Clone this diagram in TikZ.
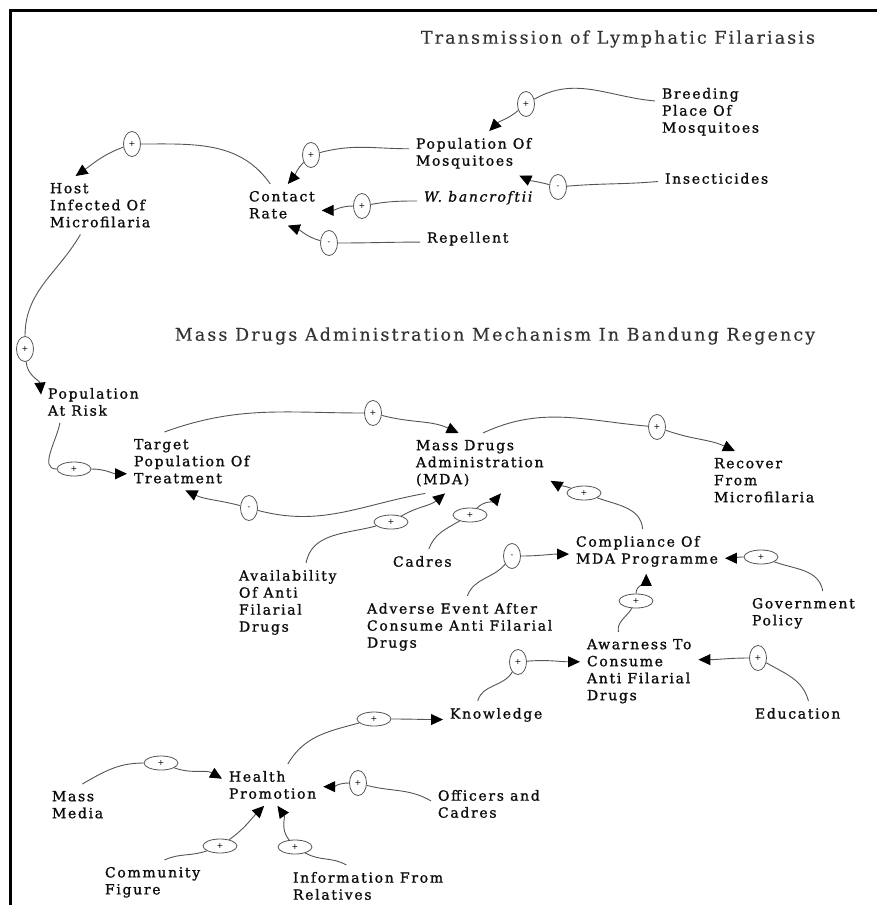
\documentclass[tikz,border=0pt]{standalone}
\usepackage{fontspec}
\setmainfont{DejaVu Serif}[LetterSpace=12]
\newfontfamily\varfont{DejaVu Serif}[LetterSpace=12, FakeBold=1.2]
\newfontfamily\ttlfont{DejaVu Serif}[LetterSpace=12, FakeBold=0.4]
\usetikzlibrary{arrows.meta,shapes.geometric}
\definecolor{linec}{gray}{0.33}
\definecolor{txt}{gray}{0.05}
\definecolor{ttl}{gray}{0.2}

\begin{document}
\begin{tikzpicture}[x = 1pt, y = 1pt,
  var/.style = {font = \varfont\fontsize{14}{17}\selectfont, align = left, anchor = north west, yshift = 3pt, inner sep = 2pt, outer sep = 5pt, text = txt},
  title/.style = {font = \ttlfont\fontsize{17.5}{20}\selectfont, text = ttl},
  sign/.style = {ellipse, draw = linec, line width = 0.8pt, inner sep = 0pt, font = \fontsize{8}{8}\selectfont},
  signv/.style = {sign, minimum width = 17pt, minimum height = 25pt},
  signh/.style = {sign, minimum width = 34pt, minimum height = 14pt},
  link/.style = {draw = linec, line width = 0.9pt},
  >={Triangle[length = 12pt, width = 11pt, color = black]}]
\useasboundingbox (0,0) rectangle (877,-905);
\draw[line width = 3pt] (10,-905) -- (10,-10) -- (877,-10);

% titles
\node[title] (t1) at (618,-39) {Transmission of Lymphatic Filariasis};
\node[title] (t2) at (495,-336) {Mass Drugs Administration Mechanism In Bandung Regency};

% transmission
\node[var] (breed) at (655,-84) {Breeding\\Place Of\\Mosquitoes};
\node[var] (popm) at (409,-134) {Population Of\\Mosquitoes};
\node[var] (ins) at (658,-169) {Insecticides};
\node[var] (host) at (43,-179) {Host\\Infected Of\\Microfilaria};
\node[var] (contact) at (242,-187) {Contact\\Rate};
\node[var] (wb) at (417,-187) {\itshape W. bancroftii};
\node[var] (rep) at (420,-228) {Repellent};

% mda mechanism
\node[var] (par) at (41,-384) {Population\\At Risk};
\node[var] (tgt) at (127,-435) {Target\\Population Of\\Treatment};
\node[var] (mda) at (409,-436) {Mass Drugs\\Administration\\(MDA)};
\node[var] (rec) at (707,-454) {Recover\\From\\Microfilaria};
\node[var] (ava) at (232,-566) {Availability\\Of Anti\\Filarial\\Drugs};
\node[var] (cad) at (386,-552) {Cadres};
\node[var] (comp) at (569,-532) {Compliance Of\\MDA Programme};
\node[var] (adv) at (360,-599) {Adverse Event After\\Consume Anti Filarial\\Drugs};
\node[var] (gov) at (745,-594) {Government\\Policy};
\node[var] (awa) at (580,-635) {Awarness To\\Consume\\Anti Filarial\\Drugs};
\node[var] (know) at (443,-704) {Knowledge};
\node[var] (edu) at (748,-704) {Education};
\node[var] (health) at (222,-767) {Health\\Promotion};
\node[var] (mm) at (45,-787) {Mass\\Media};
\node[var] (off) at (431,-786) {Officers and\\Cadres};
\node[var] (com) at (98,-863) {Community\\Figure};
\node[var] (inf) at (286,-868) {Information From\\Relatives};

% polarity signs
\node[signv] (s1) at (526,-104) {+};
\node[signv] (s2) at (558,-187) {-};
\node[signv] (s3) at (311,-155) {+};
\node[signv] (s4) at (362,-206) {+};
\node[signv] (s5) at (329,-243) {-};
\node[signv] (s6) at (132,-144) {+};
\node[signv] (s7) at (25,-349) {+};
\node[signh] (s8) at (74,-469) {+};
\node[signv] (s9) at (373,-413) {+};
\node[signv] (s10) at (249,-508) {-};
\node[signv] (s11) at (657,-427) {+};
\node[signh] (s12) at (391,-522) {+};
\node[signh] (s13) at (470,-515) {+};
\node[signh] (s14) at (584,-493) {+};
\node[signv] (s15) at (512,-556) {-};
\node[signh] (s16) at (761,-557) {+};
\node[signh] (s17) at (636,-601) {+};
\node[signv] (s18) at (518,-662) {+};
\node[signv] (s19) at (758,-658) {+};
\node[signh] (s20) at (374,-719) {+};
\node[signh] (s21) at (161,-763) {+};
\node[signv] (s22) at (358,-783) {+};
\node[signh] (s23) at (220,-846) {+};
\node[signh] (s24) at (295,-847) {+};

% links
\draw[link] (breed.169) to[out = 175, in = 30] (s1);
\draw[link, ->] (s1) to[out = 220, in = 45] (popm.55);
\draw[link] (ins.183) to[out = 185, in = 5] (s2);
\draw[link, ->] (s2) to[out = 165, in = -25] (popm.334);
\draw[link] (popm.176) to[out = 180, in = 15] (s3);
\draw[link, ->] (s3) to[out = 225, in = 50] (contact.74);
\draw[link] (wb.183) to[out = 180, in = 10] (s4);
\draw[link, ->] (s4) to[out = 180, in = 0] (contact.352);
\draw[link] (rep.184) to[out = 180, in = 0] (s5);
\draw[link, ->] (s5) to[out = 165, in = -20] (contact.286);
\draw[link] (contact.119) to[out = 125, in = 0] (s6);
\draw[link, ->] (s6) to[out = 200, in = 35] (host.130);
\draw[link] (host.236) to[out = 240, in = 90] (s7);
\draw[link, ->] (s7) to[out = -85, in = 95] (par.172);

\draw[link] (par.212) to[out = 260, in = 180] (s8);
\draw[link, ->] (s8) to[out = 0, in = 180] (tgt.191);
\draw[link] (tgt.133) to[out = 20, in = 180] (s9);
\draw[link, ->] (s9) to[out = -15, in = 155] (mda.125);
\draw[link] (mda.209) to[out = 190, in = -15] (s10);
\draw[link, ->] (s10) to[out = 165, in = -25] (tgt.258);
\draw[link] (mda.84) to[out = 25, in = 175] (s11);
\draw[link, ->] (s11) to[out = -20, in = 155] (rec.135);
\draw[link] (ava.65) to[out = 80, in = 195] (s12);
\draw[link, ->] (s12) to[out = 30, in = 220] (mda.221);
\draw[link] (cad.62) to[out = 70, in = 210] (s13);
\draw[link, ->] (s13) to[out = 45, in = 230] (mda.305);
\draw[link] (comp.101) to[out = 95, in = -20] (s14);
\draw[link, ->] (s14) to[out = 160, in = -30] (mda.346);
\draw[link] (adv.76) to[out = 70, in = 230] (s15);
\draw[link, ->] (s15) to[out = 0, in = 180] (comp.182);
\draw[link] (gov.49) to[out = 100, in = -20] (s16);
\draw[link, ->] (s16) to[out = 180, in = 0] (comp.355);
\draw[link] (awa.118) to[out = 100, in = 240] (s17);
\draw[link, ->] (s17) to[out = 90, in = -90] (comp.268);
\draw[link] (know.143) to[out = 75, in = 240] (s18);
\draw[link, ->] (s18) to[out = 5, in = 180] (awa.171);
\draw[link] (edu.49) to[out = 105, in = -30] (s19);
\draw[link, ->] (s19) to[out = 180, in = 0] (awa.11);
\draw[link] (health.54) to[out = 60, in = 195] (s20);
\draw[link, ->] (s20) to[out = 0, in = 180] (know.185);
\draw[link] (mm.77) to[out = 30, in = 180] (s21);
\draw[link, ->] (s21) to[out = -20, in = 150] (health.173);
\draw[link] (off.177) to[out = 150, in = -15] (s22);
\draw[link, ->] (s22) to[out = 180, in = 0] (health.358);
\draw[link] (com.62) to[out = 25, in = 200] (s23);
\draw[link, ->] (s23) to[out = 35, in = 225] (health.248);
\draw[link] (inf.136) to[out = 150, in = -30] (s24);
\draw[link, ->] (s24) to[out = 130, in = -55] (health.283);
\end{tikzpicture}
\end{document}
